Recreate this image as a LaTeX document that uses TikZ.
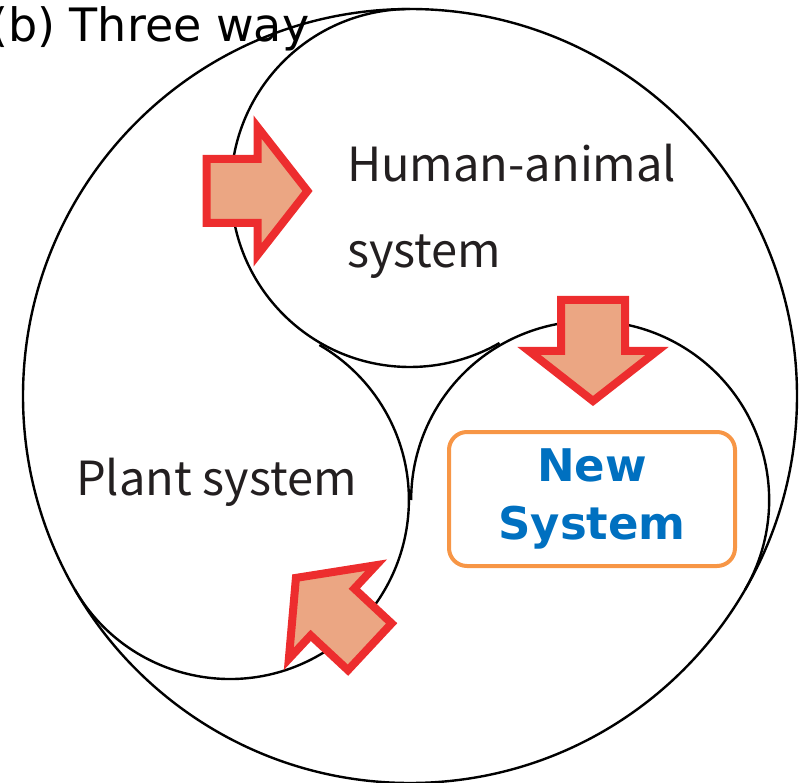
\documentclass[tikz,border=0pt]{standalone}
\usepackage{fontspec}
\setmainfont{Noto Sans CJK JP}
\newfontfamily\widesans{DejaVu Sans}
\definecolor{arrowred}{HTML}{ED2D2E}
\definecolor{arrowfill}{HTML}{EBA683}
\definecolor{newblue}{HTML}{0070C0}
\definecolor{boxorange}{HTML}{F79646}
\definecolor{inkgray}{HTML}{231F20}
\tikzset{
  blockarrow/.pic={\draw[arrowskin] (-51,-32) -- (0,-32) -- (0,-64) -- (50,0) -- (0,64) -- (0,32) -- (-51,32) -- cycle;}
}
\begin{document}
\begin{tikzpicture}[x=1pt,y=-1pt,
  ring/.style={draw=black,line width=2.4pt},
  arrowskin/.style={draw=arrowred,fill=arrowfill,line width=8pt,line join=miter},
  syslabel/.style={text=inkgray,inner sep=0pt,align=left,font=\fontsize{47}{86}\selectfont},
  newbox/.style={draw=boxorange,line width=4pt,rounded corners=18pt,minimum width=286pt,minimum height=134pt,
    align=center,text=newblue,font=\widesans\bfseries\fontsize{45}{58}\selectfont}]
\useasboundingbox (0,0) rectangle (803,783);
\coordinate (O) at (410,396);
\coordinate (A) at ([shift={(-90:208)}]O);
\coordinate (B) at ([shift={(30:208)}]O);
\coordinate (C) at ([shift={(150:208)}]O);
\draw[ring] (O) circle[radius=387];
\draw[ring] ([shift={(270:179)}]A) arc[start angle=270,end angle=60,radius=179];
\draw[ring] ([shift={(30:179)}]B) arc[start angle=30,end angle=-180,radius=179];
\draw[ring] ([shift={(150:179)}]C) arc[start angle=150,end angle=-60,radius=179];
\pic at (257.5,191) {blockarrow};
\pic[rotate=-90] at (593,351) {blockarrow};
\pic[rotate=137] at (332.5,612) {blockarrow};
\node[syslabel,anchor=base west] (human) at (347,268) {Human-animal\\system};
\node[syslabel,anchor=base west] (plant) at (76,495) {Plant system};
\node[newbox] (newsys) at (592,499) {New\\System};
\node[anchor=base west,inner sep=0pt,font=\widesans\fontsize{46}{46}\selectfont] (title) at (-10,42) {(b) Three way};
\end{tikzpicture}
\end{document}
